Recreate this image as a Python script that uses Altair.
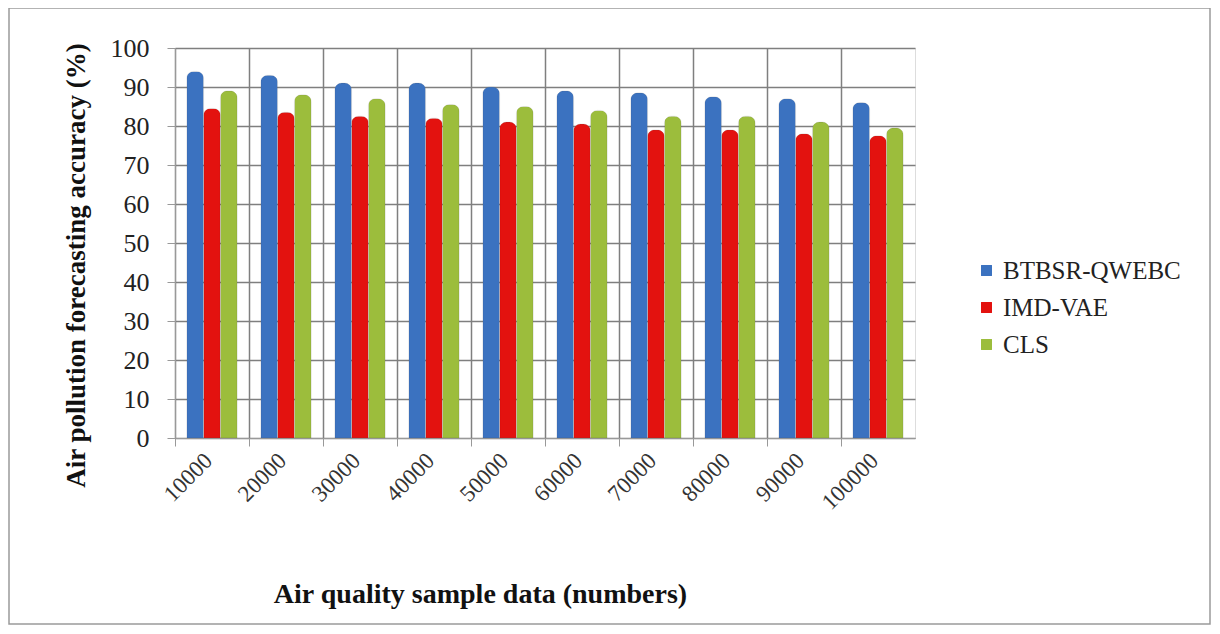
import altair as alt
import pandas as pd

categories = ["10000", "20000", "30000", "40000", "50000", "60000", "70000", "80000", "90000", "100000"]
series = ["BTBSR-QWEBC", " IMD-VAE", "CLS"]
btbsr = [94, 93, 91, 91, 90, 89, 88.5, 87.5, 87, 86]
imdvae = [84.5, 83.5, 82.5, 82, 81, 80.5, 79, 79, 78, 77.5]
cls = [89, 88, 87, 85.5, 85, 84, 82.5, 82.5, 81, 79.5]
colors = ["#3b72c0", "#e3120f", "#9cbd3c"]
y_ticks = list(range(0, 101, 10))

rows = []
for s, vals in zip(series, [btbsr, imdvae, cls]):
    for c, v in zip(categories, vals):
        rows.append({"sample": c, "method": s, "accuracy": v})
df = pd.DataFrame(rows)

serif = "Liberation Serif"

bars = alt.Chart(df).mark_bar(
    cornerRadiusTopLeft=7, cornerRadiusTopRight=7,
    stroke="#5a5a5a", strokeOpacity=0.25, strokeWidth=0.5,
).encode(
    x=alt.X("sample:N", sort=categories,
            scale=alt.Scale(paddingInner=0, paddingOuter=0),
            axis=alt.Axis(title="Air quality sample data (numbers)", labelAngle=-45,
                          bandPosition=0, grid=True, gridColor="#7f7f7f", gridWidth=1.5,
                          labelFont=serif, labelFontSize=23, labelColor="#333333",
                          labelPadding=3, labelOffset=-11, tickSize=8, tickColor="#999999",
                          domainColor="#999999",
                          titleFont=serif, titleFontSize=28, titleFontWeight="bold",
                          titleColor="#111111", titlePadding=66, titleX=305)),
    xOffset=alt.XOffset("method:N", sort=series,
                        scale=alt.Scale(paddingOuter=0.7, paddingInner=0)),
    y=alt.Y("accuracy:Q", scale=alt.Scale(domain=[0, 100]),
            axis=alt.Axis(title="Air pollution forecasting accuracy (%)", values=y_ticks,
                          grid=True, gridColor="#7f7f7f", gridWidth=1.5,
                          labelFont=serif, labelFontSize=26, labelColor="#222222",
                          labelPadding=18, tickSize=8, tickColor="#999999",
                          domainColor="#999999",
                          titleFont=serif, titleFontSize=27, titleFontWeight="bold",
                          titleColor="#111111", titlePadding=20, titleY=217)),
    color=alt.Color("method:N", sort=series,
                    scale=alt.Scale(domain=series, range=colors),
                    legend=alt.Legend(title=None, orient="none", legendX=799, legendY=210,
                                      symbolType="square", symbolSize=120,
                                      labelFont=serif, labelFontSize=25, labelColor="#222222",
                                      labelLimit=400,
                                      rowPadding=11, symbolStrokeWidth=0)),
)

frame = alt.Chart(pd.DataFrame({"f": [0]})).mark_rect(
    fill=None, stroke="#9a9a9a", strokeWidth=1.5
).encode(
    x=alt.value(-166), x2=alt.value(1035),
    y=alt.value(-40), y2=alt.value(576),
)

chart = alt.layer(frame, bars).properties(
    width=740, height=390,
    autosize=alt.AutoSizeParams(type="none"),
    padding={"left": 167, "top": 40, "right": 297, "bottom": 188},
).configure_view(stroke="#7f7f7f", strokeWidth=1.5).configure(background="white")

chart.save("out.html", embed_options={"renderer": "svg", "actions": False})
